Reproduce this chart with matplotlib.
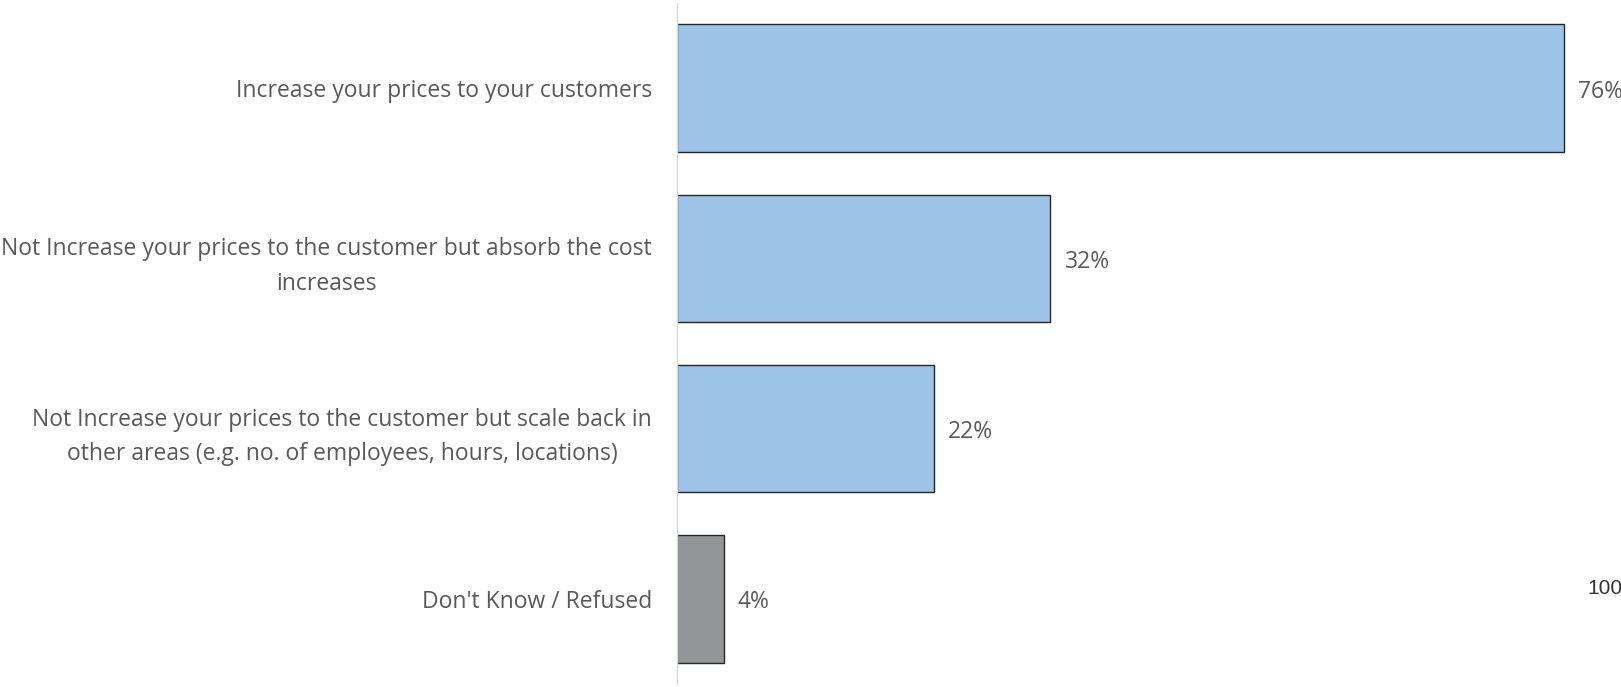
import matplotlib.pyplot as plt

# Survey answers: how businesses respond to rising costs
categories = [
    "Increase your prices to your customers",
    "Not Increase your prices to the customer but absorb the cost\nincreases",
    "Not Increase your prices to the customer but scale back in\nother areas (e.g. no. of employees, hours, locations)",
    "Don't Know / Refused",
]
shares = [76, 32, 22, 4]
bar_colors = ["#9dc3e6", "#9dc3e6", "#9dc3e6", "#939598"]

W, H = 1621, 687
fig = plt.figure(figsize=(W / 100, H / 100), dpi=100)
plt.rcParams["font.family"] = ["Open Sans", "DejaVu Sans"]

left_px, top_px, bottom_px = 677, 3, 684
ax = fig.add_axes([left_px / W, 1 - bottom_px / H, (W - left_px) / W, (bottom_px - top_px) / H])

ypos = list(range(len(categories)))
bars = ax.barh(ypos, shares, height=0.75, color=bar_colors, edgecolor="#262626", linewidth=1.0)

# 100% would sit beyond the right edge: 11.67 px per percentage point
ax.set_xlim(0, (W - left_px) / 11.67)
ax.set_ylim(len(categories) - 0.5, -0.5)

for spine in ["top", "right", "bottom"]:
    ax.spines[spine].set_visible(False)
ax.spines["left"].set_color("#d9d9d9")
ax.spines["left"].set_linewidth(1.0)
ax.set_xticks([])
ax.set_yticks(ypos)
ax.set_yticklabels(categories, fontsize=16.5, color="#595959")
ax.tick_params(axis="y", length=0, pad=18)
for lbl in ax.get_yticklabels():
    lbl.set_multialignment("center")
    lbl.set_linespacing(1.6)

for bar, val in zip(bars, shares):
    ax.text(bar.get_width() + 1.2, bar.get_y() + bar.get_height() / 2 + 0.02, f"{val}%",
            ha="left", va="center", fontsize=16.5, color="#595959")

# stray axis-end label, mostly cut off at the right edge
fig.text(1587 / W, 1 - 589 / H, "100%", ha="left", va="center",
         fontsize=15, color="#333333", family="Liberation Sans")

fig.savefig("out.png", dpi=100)
